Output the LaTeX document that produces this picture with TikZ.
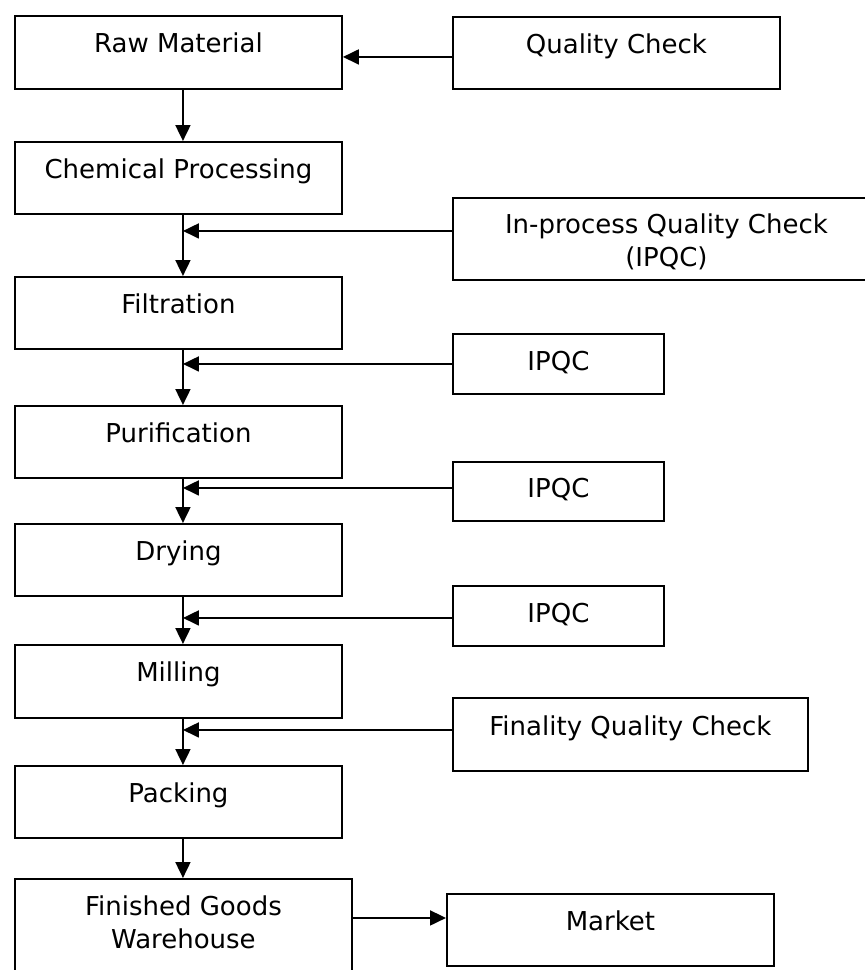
\documentclass[tikz,border=0pt]{standalone}
\usepackage{fontspec}
\setmainfont{DejaVu Sans}
\usetikzlibrary{arrows.meta}

\begin{document}
\begin{tikzpicture}[x=1pt, y=-1pt,
  box/.style={draw=black, line width=1.9pt, rectangle, inner sep=0pt, anchor=north west},
  txt/.style={anchor=base, inner sep=0pt, align=center, font=\fontsize{26}{33}\selectfont},
  arr/.style={line width=1.9pt, -{Triangle[length=16pt, width=15pt]}}]

\useasboundingbox (0,0) rectangle (865,970);
\clip (0,0) rectangle (865,970);

% process stages (left column)
\node[box, minimum width=327pt, minimum height=73pt] (raw)  at (14,15)  {};
\node[box, minimum width=327pt, minimum height=72pt] (chem) at (14,141) {};
\node[box, minimum width=327pt, minimum height=72pt] (filt) at (14,276) {};
\node[box, minimum width=327pt, minimum height=72pt] (puri) at (14,405) {};
\node[box, minimum width=327pt, minimum height=72pt] (dry)  at (14,523) {};
\node[box, minimum width=327pt, minimum height=73pt] (mill) at (14,644) {};
\node[box, minimum width=327pt, minimum height=72pt] (pack) at (14,765) {};
\node[box, minimum width=337pt, minimum height=120pt] (fgw) at (14,878) {};

% checks (right column)
\node[box, minimum width=327pt, minimum height=72pt] (qc)    at (452,16)  {};
\node[box, minimum width=427pt, minimum height=82pt] (ipqcA) at (452,197) {};
\node[box, minimum width=211pt, minimum height=60pt] (ipqcB) at (452,333) {};
\node[box, minimum width=211pt, minimum height=59pt] (ipqcC) at (452,461) {};
\node[box, minimum width=211pt, minimum height=60pt] (ipqcD) at (452,585) {};
\node[box, minimum width=355pt, minimum height=73pt] (final) at (452,697) {};
\node[box, minimum width=327pt, minimum height=72pt] (market) at (446,893) {};

% labels (base anchor sits on the last line of a two-line label)
\node[txt] (raw-t)  at ([yshift=-37pt]raw.north)  {Raw Material};
\node[txt] (chem-t) at ([yshift=-37pt]chem.north) {Chemical Processing};
\node[txt] (filt-t) at ([yshift=-37pt]filt.north) {Filtration};
\node[txt] (puri-t) at ([yshift=-37pt]puri.north) {Purification};
\node[txt] (dry-t)  at ([yshift=-37pt]dry.north)  {Drying};
\node[txt] (mill-t) at ([yshift=-37pt]mill.north) {Milling};
\node[txt] (pack-t) at ([yshift=-37pt]pack.north) {Packing};
\node[txt] (fgw-t)  at ([yshift=-70pt]fgw.north)  {Finished Goods\\Warehouse};
\node[txt] (qc-t)    at ([yshift=-37pt]qc.north)    {Quality Check};
\node[txt] (ipqcA-t) at ([yshift=-69pt]ipqcA.north) {In-process Quality Check\\(IPQC)};
\node[txt] (ipqcB-t) at ([yshift=-37pt]ipqcB.north) {IPQC};
\node[txt] (ipqcC-t) at ([yshift=-36pt]ipqcC.north) {IPQC};
\node[txt] (ipqcD-t) at ([yshift=-37pt]ipqcD.north) {IPQC};
\node[txt] (final-t) at ([yshift=-38pt]final.north) {Finality Quality Check};
\node[txt] (market-t) at ([yshift=-37pt]market.north) {Market};

% main flow line
\coordinate (spine) at ([xshift=4.5pt]raw.south);
\draw[arr] (raw.south -| spine)  -- (chem.north -| spine);
\draw[arr] (chem.south -| spine) -- (filt.north -| spine);
\draw[arr] (filt.south -| spine) -- (puri.north -| spine);
\draw[arr] (puri.south -| spine) -- (dry.north -| spine);
\draw[arr] (dry.south -| spine)  -- (mill.north -| spine);
\draw[arr] (mill.south -| spine) -- (pack.north -| spine);
\draw[arr] (pack.south -| spine) -- (fgw.north -| spine);

% checks feeding into the flow
\draw[arr] ([yshift=-4pt]qc.west) -- ([yshift=-4pt]qc.west -| raw.east);
\coordinate (jA) at ([yshift=8pt]ipqcA.west);
\coordinate (jB) at (ipqcB.west);
\coordinate (jC) at ([yshift=3.5pt]ipqcC.west);
\coordinate (jD) at ([yshift=-2pt]ipqcD.west);
\coordinate (jE) at ([yshift=4.5pt]final.west);
\draw[arr] (jA) -- (jA -| spine);
\draw[arr] (jB) -- (jB -| spine);
\draw[arr] (jC) -- (jC -| spine);
\draw[arr] (jD) -- (jD -| spine);
\draw[arr] (jE) -- (jE -| spine);

% warehouse to market
\coordinate (jM) at ([yshift=12pt]market.west);
\draw[arr] (jM -| fgw.east) -- (jM);
\end{tikzpicture}
\end{document}
